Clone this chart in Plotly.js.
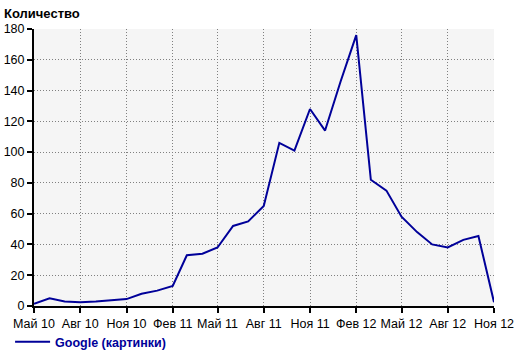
<!DOCTYPE html>
<html>
<head>
<meta charset="utf-8">
<script src="https://cdn.plot.ly/plotly-3.0.1.min.js"></script>
<style>html,body{margin:0;padding:0;background:#fff;}#chart{width:520px;height:353px;}</style>
</head>
<body>
<div id="chart"></div>
<script>
const months = ['2010-05-01','2010-06-01','2010-07-01','2010-08-01','2010-09-01','2010-10-01','2010-11-01','2010-12-01',
  '2011-01-01','2011-02-01','2011-03-01','2011-04-01','2011-05-01','2011-06-01','2011-07-01','2011-08-01','2011-09-01','2011-10-01','2011-11-01','2011-12-01',
  '2012-01-01','2012-02-01','2012-03-01','2012-04-01','2012-05-01','2012-06-01','2012-07-01','2012-08-01','2012-09-01','2012-10-01','2012-11-01'];
const counts = [1.5,5,3,2.5,3,3.5,4.5,8,10,13,33,34,38,52,55,65,106,101,128,114,146,176,82,75,58,48,40,38,43,45.5,2.5];
const tickDates = ['2010-05-01','2010-08-01','2010-11-01','2011-02-01','2011-05-01','2011-08-01','2011-11-01','2012-02-01','2012-05-01','2012-08-01','2012-11-01'];
const tickLabels = ['Май 10','Авг 10','Ноя 10','Фев 11','Май 11','Авг 11','Ноя 11','Фев 12','Май 12','Авг 12','Ноя 12'];
const seriesName = 'Google (картинки)';
const yTitle = 'Количество';

const trace = {
  x: months, y: counts, type: 'scatter', mode: 'lines', name: seriesName,
  line: {color: '#000099', width: 2}
};
const layout = {
  width: 520, height: 353,
  margin: {l: 34, r: 26, t: 29, b: 47, autoexpand: false},
  paper_bgcolor: '#ffffff', plot_bgcolor: '#f5f5f5',
  font: {family: 'Liberation Sans, Arial, sans-serif', size: 12.5, color: '#000'},
  showlegend: true,
  legend: {orientation: 'h', x: -0.052, xanchor: 'left', y: -0.13, yanchor: 'middle', itemwidth: 35,
    font: {family: 'Liberation Sans, Arial, sans-serif', size: 12.5, color: '#000099', weight: 'bold'},
    bgcolor: 'rgba(0,0,0,0)'},
  xaxis: {type: 'date', range: [months[0], months[months.length-1]],
    tickvals: tickDates, ticktext: tickLabels, ticks: 'outside', ticklen: 5, tickwidth: 2, tickcolor: '#000',
    showline: true, linecolor: '#000', linewidth: 2, showgrid: true, gridcolor: '#808080', griddash: '1px,2px', gridwidth: 1,
    zeroline: false, fixedrange: true},
  yaxis: {range: [0, 180], dtick: 20, tick0: 0, ticks: 'outside', ticklen: 5, tickwidth: 2, tickcolor: '#000',
    showline: true, linecolor: '#000', linewidth: 2, showgrid: true, gridcolor: '#808080', griddash: '1px,2px', gridwidth: 1,
    zeroline: false, fixedrange: true},
  annotations: [{text: yTitle, xref: 'paper', yref: 'paper', x: -0.07, y: 1.0, xanchor: 'left', yanchor: 'bottom',
    yshift: 6, showarrow: false, font: {family: 'Liberation Sans, Arial, sans-serif', size: 13, color: '#000', weight: 'bold'}}]
};
Plotly.newPlot('chart', [trace], layout, {staticPlot: true, displayModeBar: false});
</script>
</body>
</html>
